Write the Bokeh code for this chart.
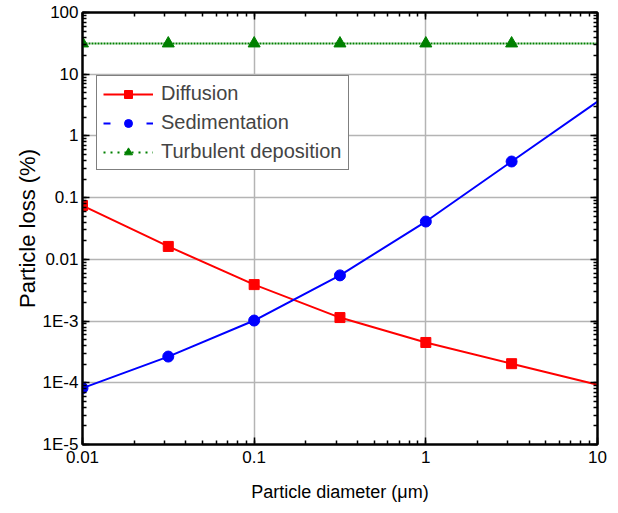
from bokeh.plotting import figure
from bokeh.models import LogAxis, Legend, LegendItem, CustomJSTickFormatter, LogTicker
from bokeh.embed import file_html
from bokeh.resources import INLINE

# ---- data ----
x_line = [0.01, 0.0316, 0.1, 0.316, 1.0, 3.16, 10.0]
diffusion_line = [0.0745, 0.0162, 0.0039, 0.00114, 0.00045, 0.000204, 9.3e-5]
sedimentation_line = [8.2e-5, 2.66e-4, 1.02e-3, 5.5e-3, 0.041, 0.385, 3.6]
turbulent_line = [31.5, 31.5, 31.5, 31.5, 31.5, 31.5, 31.5]

x_markers = [0.01, 0.0316, 0.1, 0.316, 1.0, 3.16]
diffusion_markers = [0.0745, 0.0162, 0.0039, 0.00114, 0.00045, 0.000204]
sedimentation_markers = [8.2e-5, 2.66e-4, 1.02e-3, 5.5e-3, 0.041, 0.385]
turbulent_markers = [31.5, 31.5, 31.5, 31.5, 31.5, 31.5]

y_tick_labels = ["1E-5", "1E-4", "1E-3", "0.01", "0.1", "1", "10", "100"]   # 10^-5 .. 10^2
x_tick_labels = ["0.01", "0.1", "1", "10"]                                  # 10^-2 .. 10^1

# off-frame placeholder used only to draw legend samples
legend_x = [1e-9, 1e-9]
legend_y = [1e-9, 1e-9]

FONT = "Liberation Sans"
RED, BLUE, GREEN = "#ff0000", "#0000ff", "#008000"

p = figure(frame_width=515, frame_height=432, x_axis_type="log", y_axis_type="log",
           x_range=(0.01, 10), y_range=(1e-5, 100),
           output_backend="svg", toolbar_location=None,
           min_border_left=82, min_border_top=12, min_border_right=10, min_border_bottom=58)
p.background_fill_color = "white"
p.outline_line_color = "black"
p.outline_line_width = 2

yfmt = CustomJSTickFormatter(args=dict(labels=y_tick_labels),
                             code="const k = Math.round(Math.log10(tick)); return labels[k + 5] ?? '';")
xfmt = CustomJSTickFormatter(args=dict(labels=x_tick_labels),
                             code="const k = Math.round(Math.log10(tick)); return labels[k + 2] ?? '';")

def style_axis(ax):
    ax.ticker = LogTicker(num_minor_ticks=10, desired_num_ticks=8)
    ax.axis_line_color = "black"
    ax.axis_line_width = 2
    ax.major_tick_in = 7
    ax.major_tick_out = 0
    ax.minor_tick_in = 4
    ax.minor_tick_out = 0
    ax.major_tick_line_width = 1.5
    ax.minor_tick_line_width = 1.5
    ax.major_label_text_font = FONT
    ax.major_label_text_font_size = "17px"
    ax.major_label_text_color = "black"
    ax.axis_label_text_font = FONT
    ax.axis_label_text_font_style = "normal"
    ax.axis_label_text_color = "black"

for ax in p.yaxis:
    style_axis(ax)
    ax.formatter = yfmt
    ax.axis_label = "Particle loss (%)"
    ax.axis_label_text_font_size = "22px"
    ax.major_label_standoff = 4
    ax.axis_label_standoff = 0
for ax in p.xaxis:
    style_axis(ax)
    ax.formatter = xfmt
    ax.axis_label = "Particle diameter (\u03bcm)"
    ax.axis_label_text_font_size = "18px"
    ax.major_label_standoff = 6
    ax.axis_label_standoff = 16

for loc in ("right", "above"):
    ax = LogAxis()
    style_axis(ax)
    ax.major_label_text_font_size = "0px"
    ax.major_label_standoff = 0
    ax.formatter = CustomJSTickFormatter(code="return '';")
    p.add_layout(ax, loc)

p.xgrid.grid_line_color = "#b4b4b4"
p.ygrid.grid_line_color = "#b4b4b4"
p.xgrid.grid_line_width = 1.5
p.ygrid.grid_line_width = 1.5

# curves
p.line(x_line, turbulent_line, line_color=GREEN, line_width=2, line_dash="2 1")
p.line(x_line, diffusion_line, line_color=RED, line_width=2)
p.line(x_line, sedimentation_line, line_color=BLUE, line_width=2)

p.scatter(x_markers, diffusion_markers, marker="square", size=10, fill_color=RED, line_color=RED)
p.scatter(x_markers, sedimentation_markers, marker="circle", size=11, fill_color=BLUE, line_color=BLUE)
p.scatter(x_markers, turbulent_markers, marker="triangle", size=12, fill_color=GREEN, line_color=GREEN)

# legend samples (placeholder data outside the frame, drawn only in the legend)
lg_d_line = p.line(legend_x, legend_y, line_color=RED, line_width=2)
lg_d_mark = p.scatter(legend_x, legend_y, marker="square", size=11, fill_color=RED, line_color=RED)
lg_s_line = p.line(legend_x, legend_y, line_color=BLUE, line_width=2, line_dash="7 36")
lg_s_mark = p.scatter(legend_x, legend_y, marker="circle", size=11, fill_color=BLUE, line_color=BLUE)
lg_t_line = p.line(legend_x, legend_y, line_color=GREEN, line_width=2, line_dash="2 5")
lg_t_mark = p.scatter(legend_x, legend_y, marker="triangle", size=12, fill_color=GREEN, line_color=GREEN)

legend = Legend(items=[
    LegendItem(label="Diffusion", renderers=[lg_d_line, lg_d_mark]),
    LegendItem(label="Sedimentation", renderers=[lg_s_line, lg_s_mark]),
    LegendItem(label="Turbulent deposition", renderers=[lg_t_line, lg_t_mark]),
], location=(14, 274))
legend.border_line_color = "black"
legend.border_line_width = 1.5
legend.background_fill_alpha = 1
legend.label_text_font = FONT
legend.label_text_font_size = "20px"
legend.glyph_width = 50
legend.glyph_height = 20
legend.label_height = 20
legend.label_standoff = 8
legend.spacing = 6
legend.padding = 6
legend.margin = 0
p.add_layout(legend, "center")

open("out.html", "w").write(file_html(p, INLINE))
